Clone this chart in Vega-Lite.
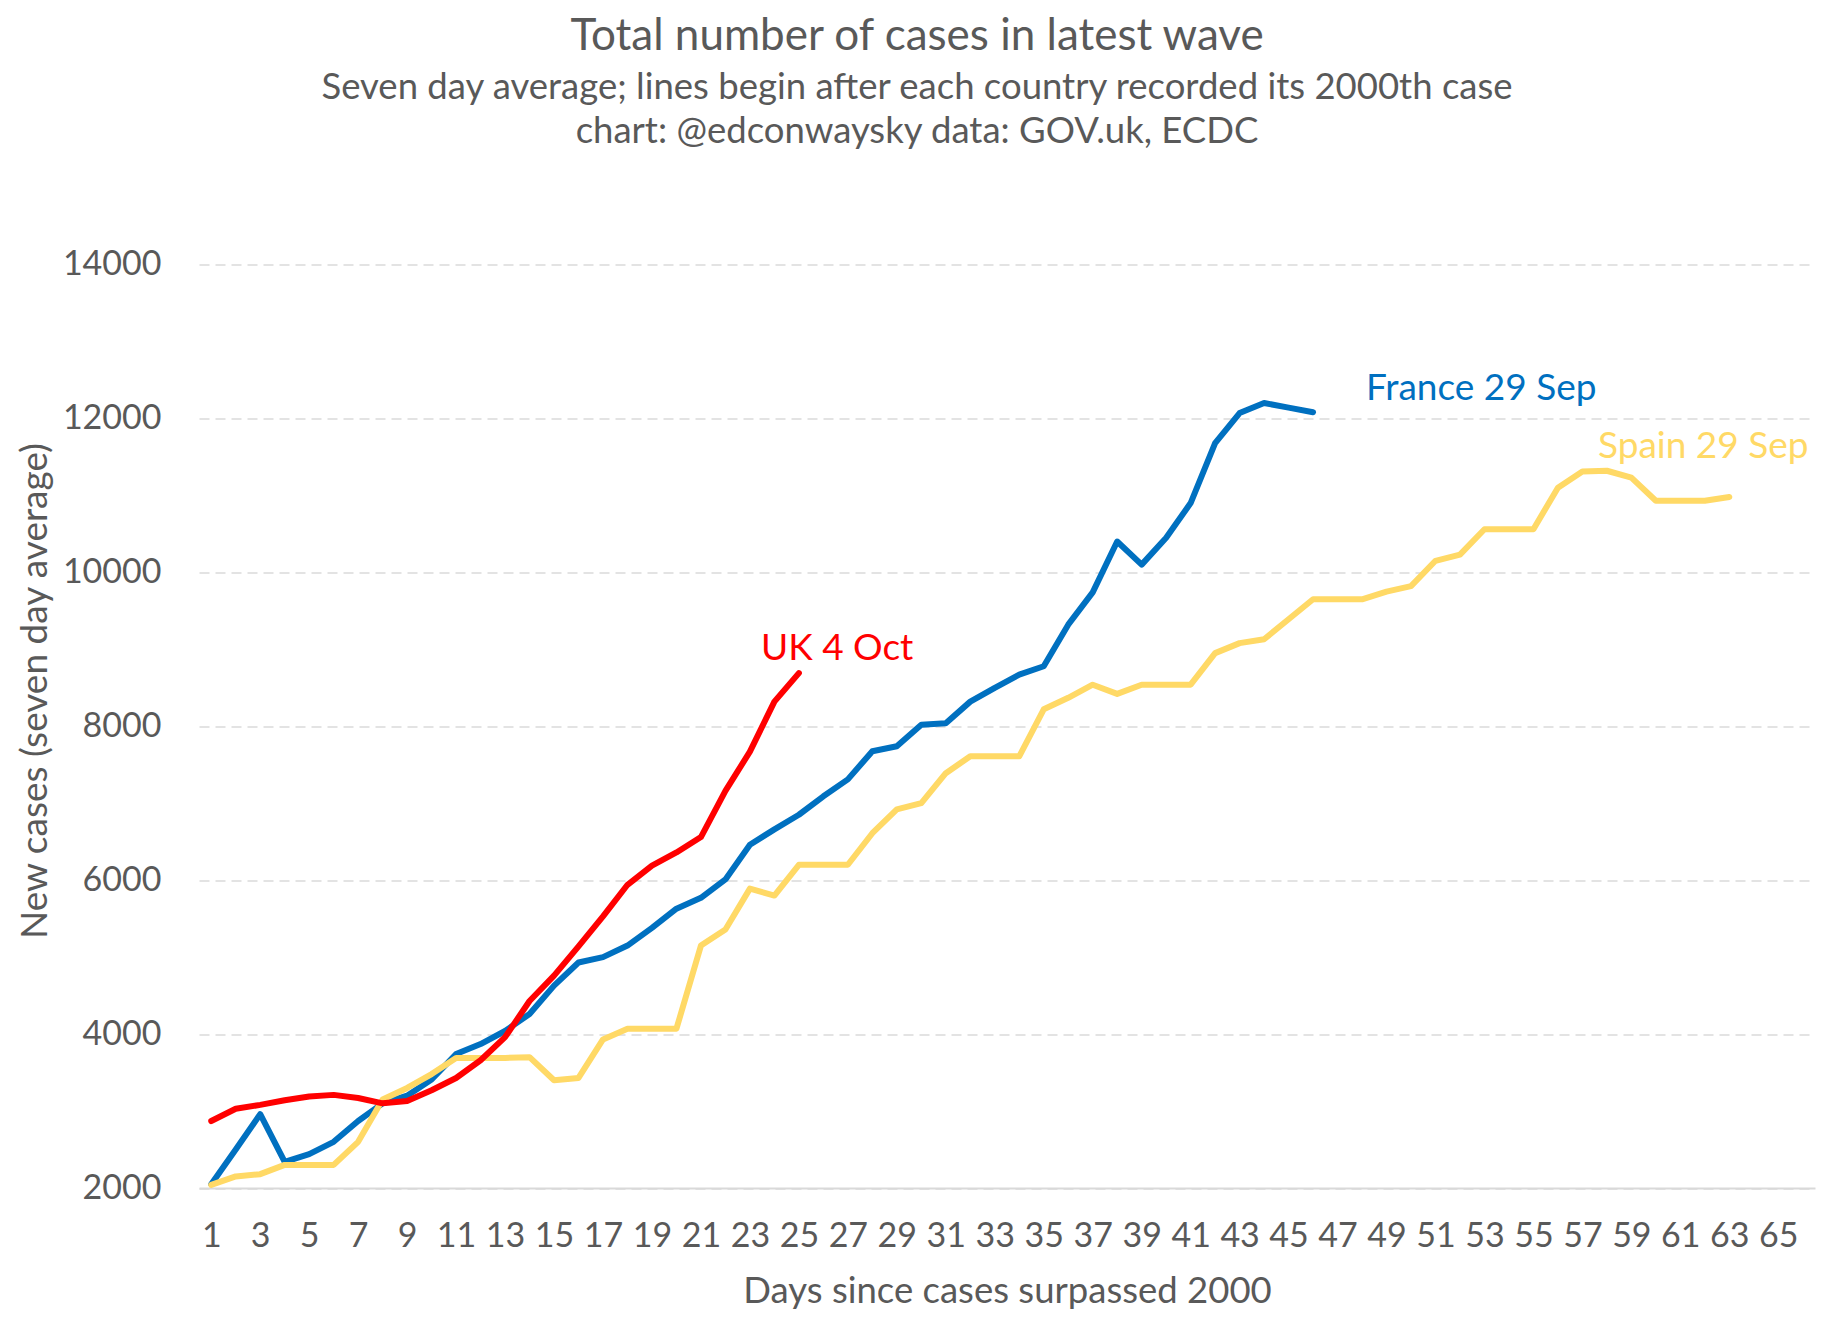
{
  "$schema": "https://vega.github.io/schema/vega-lite/v6.json",
  "width": 1616,
  "height": 923.5,
  "autosize": {"type": "none"},
  "padding": {"left": 199, "top": 264.5, "right": 21, "bottom": 144},
  "background": "white",
  "config": {
    "view": {"stroke": null},
    "font": "Lato",
    "axis": {"labelColor": "#595959", "titleColor": "#595959", "titleFontWeight": "normal", "ticks": false}
  },
  "title": {
    "text": "Total number of cases in latest wave",
    "subtitle": ["Seven day average; lines begin after each country recorded its 2000th case", "chart: @edconwaysky data: GOV.uk, ECDC"],
    "anchor": "middle",
    "dx": -90,
    "fontSize": 44,
    "fontWeight": "normal",
    "color": "#595959",
    "subtitleFontSize": 36.5,
    "subtitleColor": "#595959",
    "subtitleLineHeight": 44,
    "subtitlePadding": 11,
    "offset": 97
  },
  "datasets": {
    "series": [
      {"country": "UK", "day": 1, "cases": 2870},
      {"country": "UK", "day": 2, "cases": 3030},
      {"country": "UK", "day": 3, "cases": 3080},
      {"country": "UK", "day": 4, "cases": 3140},
      {"country": "UK", "day": 5, "cases": 3190},
      {"country": "UK", "day": 6, "cases": 3210},
      {"country": "UK", "day": 7, "cases": 3170},
      {"country": "UK", "day": 8, "cases": 3100},
      {"country": "UK", "day": 9, "cases": 3130},
      {"country": "UK", "day": 10, "cases": 3270},
      {"country": "UK", "day": 11, "cases": 3430},
      {"country": "UK", "day": 12, "cases": 3660},
      {"country": "UK", "day": 13, "cases": 3960},
      {"country": "UK", "day": 14, "cases": 4430},
      {"country": "UK", "day": 15, "cases": 4760},
      {"country": "UK", "day": 16, "cases": 5140},
      {"country": "UK", "day": 17, "cases": 5530},
      {"country": "UK", "day": 18, "cases": 5940},
      {"country": "UK", "day": 19, "cases": 6190},
      {"country": "UK", "day": 20, "cases": 6360},
      {"country": "UK", "day": 21, "cases": 6560},
      {"country": "UK", "day": 22, "cases": 7160},
      {"country": "UK", "day": 23, "cases": 7670},
      {"country": "UK", "day": 24, "cases": 8320},
      {"country": "UK", "day": 25, "cases": 8690},
      {"country": "France", "day": 1, "cases": 2050},
      {"country": "France", "day": 2, "cases": 2500},
      {"country": "France", "day": 3, "cases": 2960},
      {"country": "France", "day": 4, "cases": 2340},
      {"country": "France", "day": 5, "cases": 2440},
      {"country": "France", "day": 6, "cases": 2600},
      {"country": "France", "day": 7, "cases": 2870},
      {"country": "France", "day": 8, "cases": 3100},
      {"country": "France", "day": 9, "cases": 3200},
      {"country": "France", "day": 10, "cases": 3410},
      {"country": "France", "day": 11, "cases": 3740},
      {"country": "France", "day": 12, "cases": 3870},
      {"country": "France", "day": 13, "cases": 4040},
      {"country": "France", "day": 14, "cases": 4260},
      {"country": "France", "day": 15, "cases": 4630},
      {"country": "France", "day": 16, "cases": 4930},
      {"country": "France", "day": 17, "cases": 5000},
      {"country": "France", "day": 18, "cases": 5150},
      {"country": "France", "day": 19, "cases": 5380},
      {"country": "France", "day": 20, "cases": 5630},
      {"country": "France", "day": 21, "cases": 5770},
      {"country": "France", "day": 22, "cases": 6010},
      {"country": "France", "day": 23, "cases": 6460},
      {"country": "France", "day": 24, "cases": 6660},
      {"country": "France", "day": 25, "cases": 6850},
      {"country": "France", "day": 26, "cases": 7090},
      {"country": "France", "day": 27, "cases": 7310},
      {"country": "France", "day": 28, "cases": 7675},
      {"country": "France", "day": 29, "cases": 7740},
      {"country": "France", "day": 30, "cases": 8020},
      {"country": "France", "day": 31, "cases": 8040},
      {"country": "France", "day": 32, "cases": 8320},
      {"country": "France", "day": 33, "cases": 8500},
      {"country": "France", "day": 34, "cases": 8670},
      {"country": "France", "day": 35, "cases": 8780},
      {"country": "France", "day": 36, "cases": 9320},
      {"country": "France", "day": 37, "cases": 9740},
      {"country": "France", "day": 38, "cases": 10400},
      {"country": "France", "day": 39, "cases": 10100},
      {"country": "France", "day": 40, "cases": 10450},
      {"country": "France", "day": 41, "cases": 10900},
      {"country": "France", "day": 42, "cases": 11680},
      {"country": "France", "day": 43, "cases": 12070},
      {"country": "France", "day": 44, "cases": 12200},
      {"country": "France", "day": 45, "cases": 12140},
      {"country": "France", "day": 46, "cases": 12080},
      {"country": "Spain", "day": 1, "cases": 2040},
      {"country": "Spain", "day": 2, "cases": 2150},
      {"country": "Spain", "day": 3, "cases": 2180},
      {"country": "Spain", "day": 4, "cases": 2300},
      {"country": "Spain", "day": 5, "cases": 2300},
      {"country": "Spain", "day": 6, "cases": 2300},
      {"country": "Spain", "day": 7, "cases": 2600},
      {"country": "Spain", "day": 8, "cases": 3150},
      {"country": "Spain", "day": 9, "cases": 3300},
      {"country": "Spain", "day": 10, "cases": 3480},
      {"country": "Spain", "day": 11, "cases": 3690},
      {"country": "Spain", "day": 12, "cases": 3690},
      {"country": "Spain", "day": 13, "cases": 3690},
      {"country": "Spain", "day": 14, "cases": 3700},
      {"country": "Spain", "day": 15, "cases": 3400},
      {"country": "Spain", "day": 16, "cases": 3430},
      {"country": "Spain", "day": 17, "cases": 3930},
      {"country": "Spain", "day": 18, "cases": 4070},
      {"country": "Spain", "day": 19, "cases": 4070},
      {"country": "Spain", "day": 20, "cases": 4070},
      {"country": "Spain", "day": 21, "cases": 5150},
      {"country": "Spain", "day": 22, "cases": 5360},
      {"country": "Spain", "day": 23, "cases": 5890},
      {"country": "Spain", "day": 24, "cases": 5800},
      {"country": "Spain", "day": 25, "cases": 6200},
      {"country": "Spain", "day": 26, "cases": 6200},
      {"country": "Spain", "day": 27, "cases": 6200},
      {"country": "Spain", "day": 28, "cases": 6610},
      {"country": "Spain", "day": 29, "cases": 6920},
      {"country": "Spain", "day": 30, "cases": 7000},
      {"country": "Spain", "day": 31, "cases": 7390},
      {"country": "Spain", "day": 32, "cases": 7610},
      {"country": "Spain", "day": 33, "cases": 7610},
      {"country": "Spain", "day": 34, "cases": 7610},
      {"country": "Spain", "day": 35, "cases": 8220},
      {"country": "Spain", "day": 36, "cases": 8370},
      {"country": "Spain", "day": 37, "cases": 8540},
      {"country": "Spain", "day": 38, "cases": 8420},
      {"country": "Spain", "day": 39, "cases": 8540},
      {"country": "Spain", "day": 40, "cases": 8540},
      {"country": "Spain", "day": 41, "cases": 8540},
      {"country": "Spain", "day": 42, "cases": 8950},
      {"country": "Spain", "day": 43, "cases": 9080},
      {"country": "Spain", "day": 44, "cases": 9130},
      {"country": "Spain", "day": 45, "cases": 9390},
      {"country": "Spain", "day": 46, "cases": 9650},
      {"country": "Spain", "day": 47, "cases": 9650},
      {"country": "Spain", "day": 48, "cases": 9650},
      {"country": "Spain", "day": 49, "cases": 9750},
      {"country": "Spain", "day": 50, "cases": 9820},
      {"country": "Spain", "day": 51, "cases": 10150},
      {"country": "Spain", "day": 52, "cases": 10230},
      {"country": "Spain", "day": 53, "cases": 10560},
      {"country": "Spain", "day": 54, "cases": 10560},
      {"country": "Spain", "day": 55, "cases": 10560},
      {"country": "Spain", "day": 56, "cases": 11100},
      {"country": "Spain", "day": 57, "cases": 11310},
      {"country": "Spain", "day": 58, "cases": 11320},
      {"country": "Spain", "day": 59, "cases": 11230},
      {"country": "Spain", "day": 60, "cases": 10930},
      {"country": "Spain", "day": 61, "cases": 10930},
      {"country": "Spain", "day": 62, "cases": 10930},
      {"country": "Spain", "day": 63, "cases": 10980}
    ],
    "labels": [
      {"country": "UK", "label": "UK 4 Oct", "day": 23.45, "cases": 8860},
      {"country": "France", "label": "France 29 Sep", "day": 48.16, "cases": 12240},
      {"country": "Spain", "label": "Spain 29 Sep", "day": 57.64, "cases": 11490}
    ]
  },
  "layer": [
    {
      "data": {"name": "series"},
      "transform": [{"filter": "datum.country === 'France'"}],
      "mark": {"type": "line", "strokeWidth": 6, "strokeCap": "round", "strokeJoin": "round"},
      "encoding": {
        "x": {"field": "day", "type": "quantitative",
          "scale": {"domain": [0.5, 66.5], "nice": false, "zero": false},
          "axis": {
            "values": [1,3,5,7,9,11,13,15,17,19,21,23,25,27,29,31,33,35,37,39,41,43,45,47,49,51,53,55,57,59,61,63,65],
            "title": "Days since cases surpassed 2000",
            "titleFontSize": 36.5,
            "titlePadding": 20,
            "labelFontSize": 34,
            "labelPadding": 31,
            "labelFlush": false,
            "labelOverlap": false,
            "grid": false,
            "domain": true,
            "domainColor": "#D9D9D9",
            "domainWidth": 2
          }
        },
        "y": {"field": "cases", "type": "quantitative",
          "scale": {"domain": [2000, 14000], "nice": false, "zero": false},
          "axis": {
            "values": [2000,4000,6000,8000,10000,12000,14000],
            "format": "d",
            "title": "New cases (seven day average)",
            "titleFontSize": 37,
            "titlePadding": 8,
            "titleY": 426,
            "labelFontSize": 34,
            "labelPadding": 38,
            "domain": false,
            "grid": true,
            "gridColor": "#E3E3E3",
            "gridWidth": 2,
            "gridDash": [10, 6]
          }
        },
        "color": {"value": "#0070C0"}
      }
    },
    {
      "data": {"name": "series"},
      "transform": [{"filter": "datum.country === 'Spain'"}],
      "mark": {"type": "line", "strokeWidth": 6, "strokeCap": "round", "strokeJoin": "round"},
      "encoding": {
        "x": {"field": "day", "type": "quantitative"},
        "y": {"field": "cases", "type": "quantitative"},
        "color": {"value": "#FFD966"}
      }
    },
    {
      "data": {"name": "series"},
      "transform": [{"filter": "datum.country === 'UK'"}],
      "mark": {"type": "line", "strokeWidth": 6, "strokeCap": "round", "strokeJoin": "round"},
      "encoding": {
        "x": {"field": "day", "type": "quantitative"},
        "y": {"field": "cases", "type": "quantitative"},
        "color": {"value": "#FF0000"}
      }
    },
    {
      "data": {"name": "labels"},
      "mark": {"type": "text", "align": "left", "baseline": "alphabetic", "fontSize": 37},
      "encoding": {
        "x": {"field": "day", "type": "quantitative"},
        "y": {"field": "cases", "type": "quantitative"},
        "text": {"field": "label"},
        "color": {
          "field": "country", "type": "nominal",
          "scale": {"domain": ["France", "Spain", "UK"], "range": ["#0070C0", "#FFD966", "#FF0000"]},
          "legend": null
        }
      }
    }
  ]
}
